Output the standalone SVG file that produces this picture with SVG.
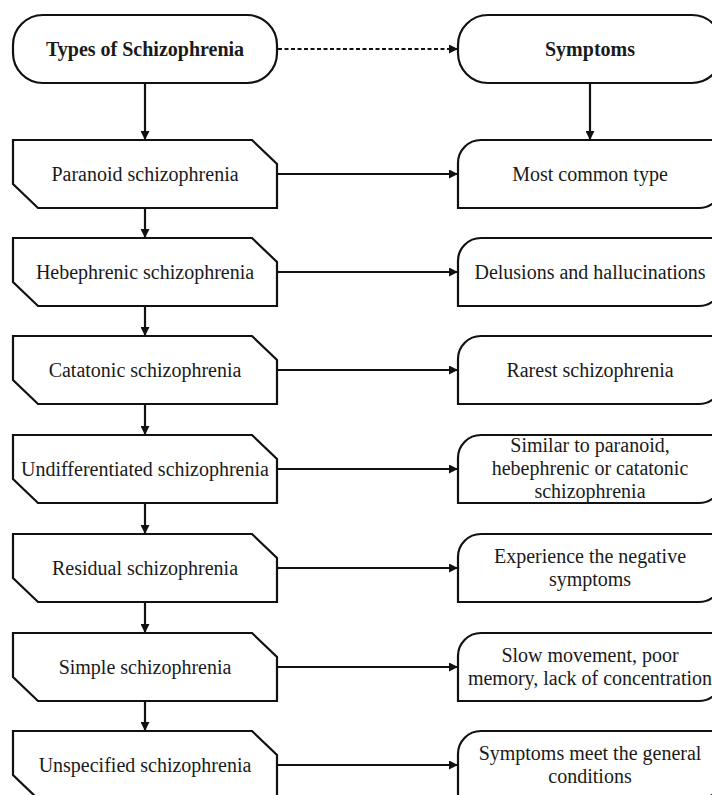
<svg xmlns="http://www.w3.org/2000/svg" width="712" height="795" viewBox="0 0 712 795">
  <defs>
    <marker id="arrow" viewBox="0 0 10 10" refX="10" refY="5" markerWidth="9" markerHeight="9" markerUnits="userSpaceOnUse" orient="auto">
      <path d="M0,0 L10,5 L0,10 Z" fill="#111"/>
    </marker>
    <style>
      .shape { fill: #fff; stroke: #111; stroke-width: 2.2; stroke-linejoin: miter; }
      .label { font-family: "Liberation Serif", "Times New Roman", serif; font-size: 20px; fill: #1a1a1a; text-anchor: middle; }
      .title { font-weight: bold; }
      .link { stroke: #111; stroke-width: 2.2; fill: none; marker-end: url(#arrow); }
      .dashed { stroke-dasharray: 4 2.5; }
    </style>
  </defs>
  <rect width="712" height="795" fill="#fff"/>

  <!-- connectors -->
  <g id="connectors">
    <line class="link dashed" x1="278" y1="49" x2="458" y2="49"/>
    <line class="link" x1="145" y1="84" x2="145" y2="140"/>
    <line class="link" x1="590" y1="84" x2="590" y2="140"/>
    <!-- vertical chain of types -->
    <line class="link" x1="145" y1="208" x2="145" y2="238"/>
    <line class="link" x1="145" y1="306" x2="145" y2="336"/>
    <line class="link" x1="145" y1="404" x2="145" y2="435"/>
    <line class="link" x1="145" y1="503" x2="145" y2="534"/>
    <line class="link" x1="145" y1="602" x2="145" y2="633"/>
    <line class="link" x1="145" y1="701" x2="145" y2="731"/>
    <!-- type to symptom -->
    <line class="link" x1="277" y1="174" x2="458" y2="174"/>
    <line class="link" x1="277" y1="272" x2="458" y2="272"/>
    <line class="link" x1="277" y1="370" x2="458" y2="370"/>
    <line class="link" x1="277" y1="469" x2="458" y2="469"/>
    <line class="link" x1="277" y1="568" x2="458" y2="568"/>
    <line class="link" x1="277" y1="667" x2="458" y2="667"/>
    <line class="link" x1="277" y1="765" x2="458" y2="765"/>
  </g>

  <!-- headers -->
  <g id="types-header">
    <rect class="shape" x="13" y="15" width="264" height="68" rx="30" ry="30"/>
    <text class="label title" x="145" y="56">Types of Schizophrenia</text>
  </g>
  <g id="symptoms-header">
    <rect class="shape" x="458" y="15" width="264" height="68" rx="30" ry="30"/>
    <text class="label title" x="590" y="56">Symptoms</text>
  </g>

  <!-- types: chamfered boxes (top-right and bottom-left corners cut) -->
  <g id="paranoid">
    <path class="shape" d="M13,140 H252 L277,164 V208 H38 L13,184 Z"/>
    <text class="label" x="145" y="181">Paranoid schizophrenia</text>
  </g>
  <g id="hebephrenic">
    <path class="shape" d="M13,238 H252 L277,262 V306 H38 L13,282 Z"/>
    <text class="label" x="145" y="279">Hebephrenic schizophrenia</text>
  </g>
  <g id="catatonic">
    <path class="shape" d="M13,336 H252 L277,360 V404 H38 L13,380 Z"/>
    <text class="label" x="145" y="377">Catatonic schizophrenia</text>
  </g>
  <g id="undifferentiated">
    <path class="shape" d="M13,435 H252 L277,459 V503 H38 L13,479 Z"/>
    <text class="label" x="145" y="476">Undifferentiated schizophrenia</text>
  </g>
  <g id="residual">
    <path class="shape" d="M13,534 H252 L277,558 V602 H38 L13,578 Z"/>
    <text class="label" x="145" y="575">Residual schizophrenia</text>
  </g>
  <g id="simple">
    <path class="shape" d="M13,633 H252 L277,657 V701 H38 L13,677 Z"/>
    <text class="label" x="145" y="674">Simple schizophrenia</text>
  </g>
  <g id="unspecified">
    <path class="shape" d="M13,731 H252 L277,755 V799 H38 L13,775 Z"/>
    <text class="label" x="145" y="772">Unspecified schizophrenia</text>
  </g>

  <!-- symptoms: boxes with rounded top-left and bottom-right corners -->
  <g id="most-common">
    <path class="shape" d="M481,140 H722 V185 A23,23 0 0 1 699,208 H458 V163 A23,23 0 0 1 481,140 Z"/>
    <text class="label" x="590" y="181">Most common type</text>
  </g>
  <g id="delusions">
    <path class="shape" d="M481,238 H722 V283 A23,23 0 0 1 699,306 H458 V261 A23,23 0 0 1 481,238 Z"/>
    <text class="label" x="590" y="279">Delusions and hallucinations</text>
  </g>
  <g id="rarest">
    <path class="shape" d="M481,336 H722 V381 A23,23 0 0 1 699,404 H458 V359 A23,23 0 0 1 481,336 Z"/>
    <text class="label" x="590" y="377">Rarest schizophrenia</text>
  </g>
  <g id="similar">
    <path class="shape" d="M481,435 H722 V480 A23,23 0 0 1 699,503 H458 V458 A23,23 0 0 1 481,435 Z"/>
    <text class="label" x="590" y="452">Similar to paranoid,</text>
    <text class="label" x="590" y="475">hebephrenic or catatonic</text>
    <text class="label" x="590" y="498">schizophrenia</text>
  </g>
  <g id="negative">
    <path class="shape" d="M481,534 H722 V579 A23,23 0 0 1 699,602 H458 V557 A23,23 0 0 1 481,534 Z"/>
    <text class="label" x="590" y="563">Experience the negative</text>
    <text class="label" x="590" y="586">symptoms</text>
  </g>
  <g id="slow-movement">
    <path class="shape" d="M481,633 H722 V678 A23,23 0 0 1 699,701 H458 V656 A23,23 0 0 1 481,633 Z"/>
    <text class="label" x="590" y="662">Slow movement, poor</text>
    <text class="label" x="590" y="685">memory, lack of concentration</text>
  </g>
  <g id="general-conditions">
    <path class="shape" d="M481,731 H722 V776 A23,23 0 0 1 699,799 H458 V754 A23,23 0 0 1 481,731 Z"/>
    <text class="label" x="590" y="760">Symptoms meet the general</text>
    <text class="label" x="590" y="783">conditions</text>
  </g>
</svg>
